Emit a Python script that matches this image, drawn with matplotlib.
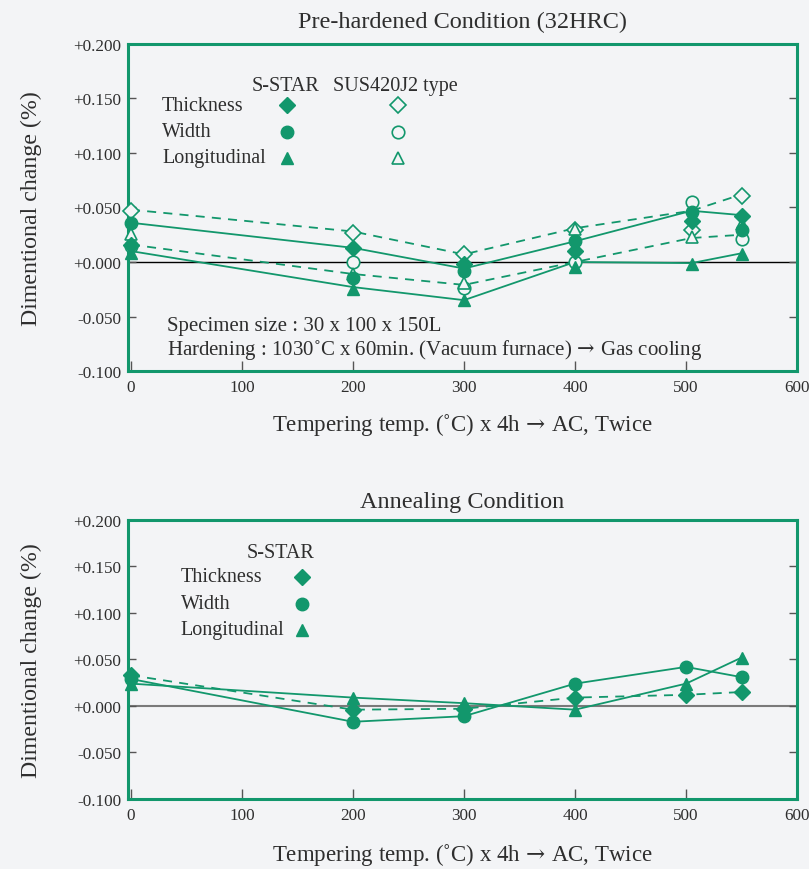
import matplotlib
matplotlib.use("Agg")
import matplotlib.pyplot as plt

plt.rcParams['font.family'] = ['Liberation Serif', 'DejaVu Serif']
plt.rcParams['mathtext.fontset'] = 'dejavuserif'

green = '#12976c'
txt = '#2e2e2e'
paper = '#f3f4f6'

# --- Pre-hardened condition (32HRC) ---
temps_top = [0, 200, 300, 400, 505, 550]
# S-STAR (filled markers)
thick_s = [0.016, 0.013, -0.002, 0.010, 0.038, 0.042]
width_s = [0.036, -0.015, -0.008, 0.019, 0.046, 0.029]
long_s = [0.008, -0.025, -0.035, -0.005, -0.002, 0.007]
# SUS420J2 type (open markers)
thick_j = [0.047, 0.027, 0.007, 0.029, 0.029, 0.061]
width_j = [0.015, 0.000, -0.024, 0.000, 0.055, 0.021]
long_j = [0.026, -0.011, -0.019, 0.030, 0.023, 0.035]
# range lines drawn through the scatter
sstar_hi = [0.036, 0.013, -0.006, 0.019, 0.047, 0.043]
sstar_lo = [0.010, -0.023, -0.035, 0.000, -0.001, 0.008]
sus_hi = [0.048, 0.028, 0.007, 0.031, 0.047, 0.062]
sus_lo = [0.016, -0.011, -0.021, 0.000, 0.022, 0.025]

# --- Annealing condition ---
temps_bot = [0, 200, 300, 400, 500, 550]
thick_a = [0.033, -0.004, -0.003, 0.009, 0.012, 0.015]
width_a = [0.029, -0.017, -0.011, 0.024, 0.042, 0.031]
long_a = [0.024, 0.009, 0.003, -0.004, 0.024, 0.052]

xticks = [0, 100, 200, 300, 400, 500, 600]
yticks = [-0.1, -0.05, 0.0, 0.05, 0.1, 0.15, 0.2]
ytick_labels = ['-0.100', '-0.050', '+0.000', '+0.050', '+0.100', '+0.150', '+0.200']
rows = ['Thickness', 'Width', 'Longitudinal']
mk = ['D', 'o', '^']
msz = [8, 9, 9]
xlab = r'Tempering temp. (˚C) x 4h $\!\rightarrow\!$ AC, Twice'
ylab = 'Dimentional change (%)'

fig = plt.figure(figsize=(8.09, 8.70), dpi=100, facecolor=paper)
ax1 = fig.add_axes([0.1582, 0.5724, 0.827, 0.3759])
ax2 = fig.add_axes([0.1582, 0.0805, 0.827, 0.3207])


def style(ax, title, tpad, lpad):
    ax.set_facecolor(paper)
    ax.set_xlim(-2.7, 600)
    ax.set_ylim(-0.1, 0.2)
    ax.set_xticks(xticks)
    ax.set_yticks(yticks)
    ax.set_yticklabels(ytick_labels)
    for s in ax.spines.values():
        s.set_color(green)
        s.set_linewidth(2.2)
    ax.tick_params(axis='both', direction='in', colors='#555555', labelcolor=txt,
                   labelsize=12.3, width=1, length=6)
    ax.tick_params(axis='y', right=True, pad=5)
    ax.tick_params(axis='x', pad=6, length=7)
    ax.axhline(0, color='black', lw=1, zorder=1)
    ax.set_title(title, fontsize=17.5, color=txt, pad=tpad)
    ax.set_xlabel(xlab, fontsize=16.5, color=txt, labelpad=lpad)
    ax.set_ylabel(ylab, fontsize=17.2, color=txt)
    ax.yaxis.set_label_coords(-0.128, 0.5)


style(ax1, 'Pre-hardened Condition (32HRC)', 12, 11)
style(ax2, 'Annealing Condition', 9, 13)
ax2.get_lines()[0].set_color('#7a7a7a')
ax2.get_lines()[0].set_linewidth(1.5)

# top panel
ax1.plot(temps_top, sstar_hi, color=green, lw=1.3, zorder=2)
ax1.plot(temps_top, sstar_lo, color=green, lw=1.3, zorder=2)
ax1.plot(temps_top, sus_hi, color=green, lw=1.3, ls=(0, (5, 4)), zorder=2)
ax1.plot(temps_top, sus_lo, color=green, lw=1.3, ls=(0, (5, 4)), zorder=2)
for vals, m, s in zip([thick_s, width_s, long_s], mk, msz):
    ax1.plot(temps_top, vals, ls='none', marker=m, ms=s, color=green, clip_on=False, zorder=4)
for vals, m, s in zip([thick_j, width_j, long_j], mk, msz):
    ax1.plot(temps_top, vals, ls='none', marker=m, ms=s, mfc=paper, mec=green, mew=1.2,
             clip_on=False, zorder=3)

ax1.text(0.185, 0.872, 'S-STAR', transform=ax1.transAxes, fontsize=14.5, color=txt, va='center')
ax1.text(0.306, 0.872, 'SUS420J2 type', transform=ax1.transAxes, fontsize=14.5, color=txt, va='center')
for i, (lab, m, s) in enumerate(zip(rows, mk, msz)):
    yy = [0.812, 0.732, 0.652][i]
    ax1.text(0.051, yy, lab, transform=ax1.transAxes, fontsize=14.5, color=txt, va='center')
    ax1.plot([0.238], [yy], transform=ax1.transAxes, marker=m, ms=s, color=green, ls='none')
    ax1.plot([0.404], [yy], transform=ax1.transAxes, marker=m, ms=s, mfc=paper, mec=green,
             mew=1.2, ls='none')

ax1.text(0.058, 0.140, 'Specimen size : 30 x 100 x 150L', transform=ax1.transAxes,
         fontsize=15, color=txt, va='center')
ax1.text(0.058, 0.066, r'Hardening : 1030˚C x 60min. (Vacuum furnace) $\!\rightarrow\!$ Gas cooling',
         transform=ax1.transAxes, fontsize=15, color=txt, va='center')

# bottom panel
ax2.plot(temps_bot, thick_a, color=green, lw=1.3, ls=(0, (5, 4)), zorder=2)
ax2.plot(temps_bot, width_a, color=green, lw=1.3, zorder=2)
ax2.plot(temps_bot, long_a, color=green, lw=1.3, zorder=2)
for vals, m, s in zip([thick_a, width_a, long_a], mk, msz):
    ax2.plot(temps_bot, vals, ls='none', marker=m, ms=s, color=green, clip_on=False, zorder=4)

ax2.text(0.178, 0.885, 'S-STAR', transform=ax2.transAxes, fontsize=14.5, color=txt, va='center')
for i, (lab, m, s) in enumerate(zip(rows, mk, msz)):
    yy = [0.796, 0.699, 0.606][i]
    ax2.text(0.079, yy, lab, transform=ax2.transAxes, fontsize=14.5, color=txt, va='center')
    ax2.plot([0.260], [yy], transform=ax2.transAxes, marker=m, ms=s, color=green, ls='none')

fig.savefig('out.png', dpi=100, facecolor=paper)
